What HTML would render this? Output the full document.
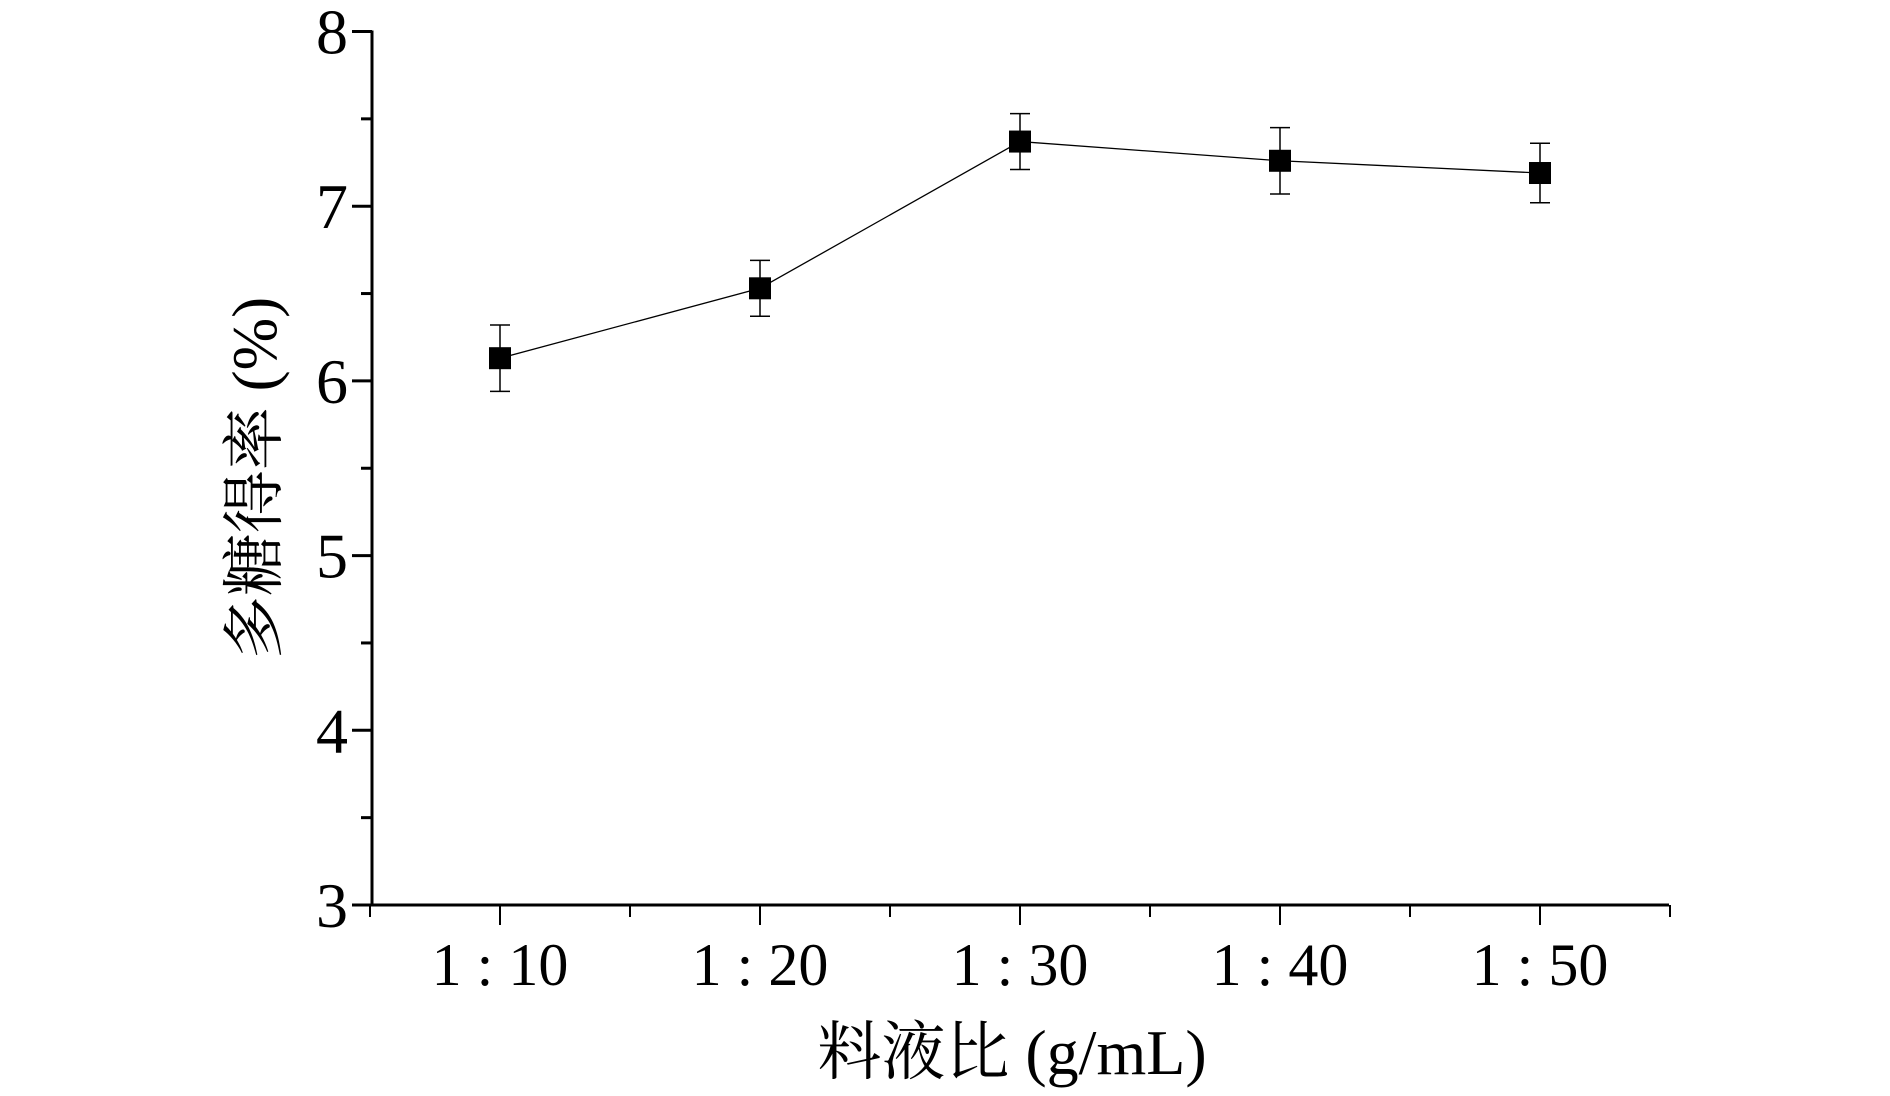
<!DOCTYPE html>
<html><head><meta charset="utf-8"><style>
html,body{margin:0;padding:0;background:#fff;}
svg text{font-family:"Liberation Serif","Noto Serif CJK SC",serif;fill:#000;}
</style></head><body>
<svg id="chart" width="1890" height="1091" viewBox="0 0 1890 1091" xmlns="http://www.w3.org/2000/svg">
<g id="axes"></g><g id="series"></g>
<text x="1012" y="1074" font-size="64" text-anchor="middle">料液比 (g/mL)</text>
<text transform="translate(276,478) rotate(-90)" font-size="63" text-anchor="middle">多糖得率 (%)</text>
</svg>
<script>
const categories = ["1:10","1:20","1:30","1:40","1:50"];
const yieldValues = [6.13,6.53,7.37,7.26,7.19];
const errorValues = [0.19,0.16,0.16,0.19,0.17];
const yTicks = [3,4,5,6,7,8];
const NS="http://www.w3.org/2000/svg";
const X0=372,X1=1669,Y3=905,Y8=31.5;
const xFirst=500,xStep=260;
function xPos(i){return xFirst+i*xStep;}
function yPos(v){return Y3-(v-3)*(Y3-Y8)/5;}
function mk(tag,attrs,parent){const e=document.createElementNS(NS,tag);for(const k in attrs)e.setAttribute(k,attrs[k]);parent.appendChild(e);return e;}
const ax=document.getElementById('axes'),se=document.getElementById('series');
let e=mk('line',{x1:X0,y1:Y8-1,x2:X0,y2:Y3,stroke:'#000','stroke-width':3},ax);


e=mk('line',{x1:X0,y1:Y3,x2:X1,y2:Y3,stroke:'#000','stroke-width':3},ax);


yTicks.forEach((v,i)=>{
  const y=yPos(v);
  let t=mk('line',{x1:X0-20,y1:y,x2:X0,y2:y,stroke:'#000','stroke-width':3},ax);
  
  
  let l=mk('text',{x:X0-24,y:y+22,'font-size':64,'text-anchor':'end'},ax);
  l.textContent=v;
  
  
  if(i<yTicks.length-1){const ym=yPos(v+0.5);
    let m=mk('line',{x1:X0-11,y1:ym,x2:X0,y2:ym,stroke:'#000','stroke-width':3},ax);
    
    }
});
for(let k=0;k<=categories.length;k++){
  const xm=xFirst+(k-0.5)*xStep;
  if(xm<=X1+2){let m=mk('line',{x1:xm,y1:Y3,x2:xm,y2:Y3+12,stroke:'#000','stroke-width':2},ax);
  
  }
}
categories.forEach((c,i)=>{
  const x=xPos(i);
  let t=mk('line',{x1:x,y1:Y3,x2:x,y2:Y3+20,stroke:'#000','stroke-width':2},ax);
  
  
  let l=mk('text',{x:x,y:Y3+80,'font-size':60,'text-anchor':'middle'},ax);
  l.textContent=c.replace(':',' : ');
  
  
});
const pts=yieldValues.map((v,i)=>xPos(i)+','+yPos(v)).join(' ');
let pl=mk('polyline',{points:pts,fill:'none',stroke:'#000','stroke-width':1.3},se);


yieldValues.forEach((v,i)=>{
  const x=xPos(i),yt=yPos(v+errorValues[i]),yb=yPos(v-errorValues[i]);
  const g=mk('g',{},se);
  
  
  mk('line',{x1:x,y1:yt,x2:x,y2:yb,stroke:'#000','stroke-width':1.5},g);
  mk('line',{x1:x-10,y1:yt,x2:x+10,y2:yt,stroke:'#000','stroke-width':1.5},g);
  mk('line',{x1:x-10,y1:yb,x2:x+10,y2:yb,stroke:'#000','stroke-width':1.5},g);
  let r=mk('rect',{x:x-11,y:yPos(v)-11,width:22,height:22,fill:'#000'},se);
  
  
});
</script>
</body></html>
